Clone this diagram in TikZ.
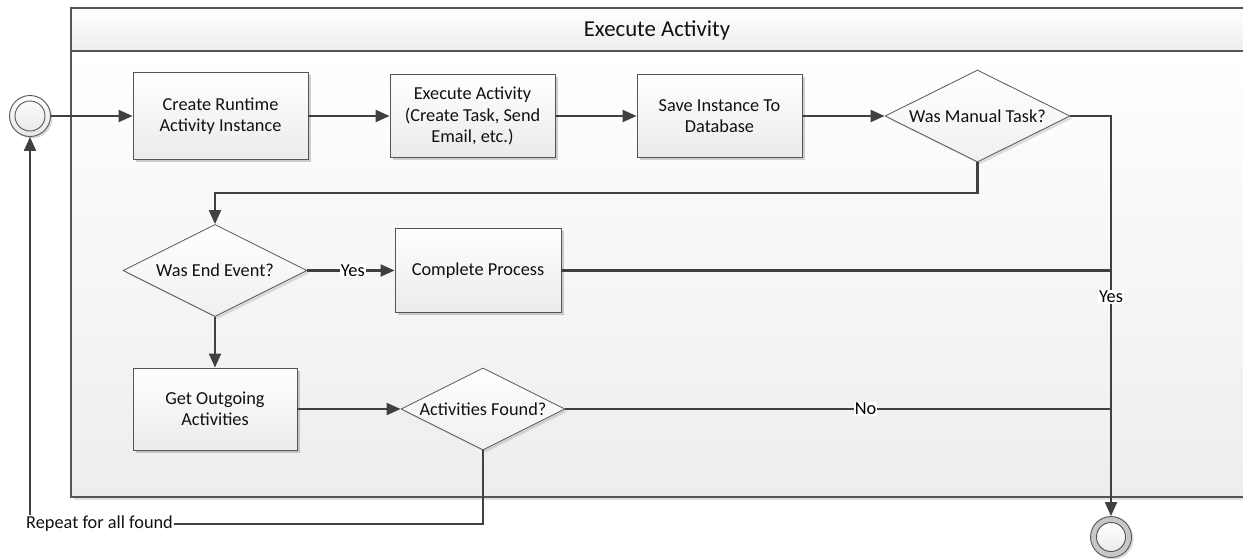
\documentclass[tikz,border=0pt]{standalone}
\usepackage{fontspec}
\setmainfont{Carlito}
\usetikzlibrary{arrows.meta,shapes.geometric,shadows,calc}
\definecolor{edge}{HTML}{404040}
\definecolor{bord}{HTML}{555555}
\definecolor{txt}{HTML}{111111}
\begin{document}
\begin{tikzpicture}[x=1pt,y=-1pt,
  font=\fontsize{18.3}{21.5}\selectfont, text=txt,
  box/.style={rectangle, draw=bord, line width=0.9pt, top color=white, bottom color=black!8,
     align=center, inner sep=0pt,
     drop shadow={shadow xshift=2.5pt, shadow yshift=-2.5pt, opacity=0.18, fill=black}},
  gate/.style={diamond, draw=bord, line width=0.8pt, top color=white, bottom color=black!6,
     aspect=2, inner sep=0pt, align=center,
     drop shadow={shadow xshift=2.5pt, shadow yshift=-2.5pt, opacity=0.12, fill=black}},
  flow/.style={draw=edge, line width=2.1pt, -{Triangle[length=14pt,width=12pt]}},
  line/.style={draw=edge, line width=2.1pt},
  lbl/.style={fill=white, inner sep=1pt, text=black}]
\useasboundingbox (0,0) rectangle (1243,558);
% pool
\fill[black, opacity=0.12] (74,500) rectangle (1246,60);
\path[top color=white, bottom color=black!7, draw=bord, line width=1.3pt] (71,51) rectangle (1245,497);
\path[top color=white, bottom color=black!7, draw=bord, line width=1.3pt] (71,8) rectangle (1245,51);
\node (pool) at (657,30) {\fontsize{22.8}{26}\selectfont Execute Activity};
% nodes
\node[circle, draw=bord, line width=0.9pt, minimum size=41pt, inner sep=0pt, top color=white, bottom color=black!10,
  drop shadow={shadow xshift=2pt, shadow yshift=-2pt, opacity=0.15, fill=black}] (start) at (30,116) {};
\draw[bord, line width=0.9pt] (start.center) circle (15pt);
\node[box, minimum width=175pt, minimum height=87pt] (cr) at (220.5,116) {Create Runtime\\Activity Instance};
\node[box, minimum width=165pt, minimum height=83pt] (ex) at (472.5,116) {Execute Activity\\(Create Task, Send\\Email, etc.)};
\node[box, minimum width=165pt, minimum height=83pt] (sv) at (719.5,116) {Save Instance To\\Database};
\node[gate, minimum width=185pt, minimum height=92pt] (mt) at (977.5,116) {Was Manual Task?};
\node[gate, minimum width=184pt, minimum height=92pt] (ee) at (215,270.5) {Was End Event?};
\node[box, minimum width=166pt, minimum height=84pt] (cp) at (478,270.5) {Complete Process};
\node[box, minimum width=164pt, minimum height=82pt] (go) at (215,409) {Get Outgoing\\Activities};
\node[gate, minimum width=164pt, minimum height=82pt] (af) at (483,409) {Activities Found?};
\node[circle, draw=bord, line width=0.9pt, minimum size=41pt, inner sep=0pt, fill=black!22,
  drop shadow={shadow xshift=2pt, shadow yshift=-2pt, opacity=0.15, fill=black}] (end) at (1111,537) {};
\fill[top color=white, bottom color=black!8, draw=bord, line width=0.9pt] (end.center) circle (14.5pt);
\node[fill=white, inner sep=1pt, anchor=west] (rep) at (25,524) {Repeat for all found};
% connectors
\draw[flow] (start) -- (cr);
\draw[flow] (cr) -- (ex);
\draw[flow] (ex) -- (sv);
\draw[flow] (sv) -- (mt);
\draw[flow] (mt.south) -- (mt.south |- 0,193) -| (ee.north);
\draw[flow] (mt.east) -| node[lbl, pos=0.726] {Yes} (end.north);
\draw[flow] (ee.east) -- node[lbl, pos=0.52] {Yes} (cp.west);
\draw[line] (cp.east) -- (cp.east -| end.north);
\draw[flow] (ee.south) -- (go.north);
\draw[flow] (go.east) -- (af.west);
\draw[line] (af.east) -- node[lbl, pos=0.55] {No} (af.east -| end.north);
\draw[line] (af.south) |- (rep.east);
\draw[flow] (rep.north -| start.south) -- (start.south);
\end{tikzpicture}
\end{document}
